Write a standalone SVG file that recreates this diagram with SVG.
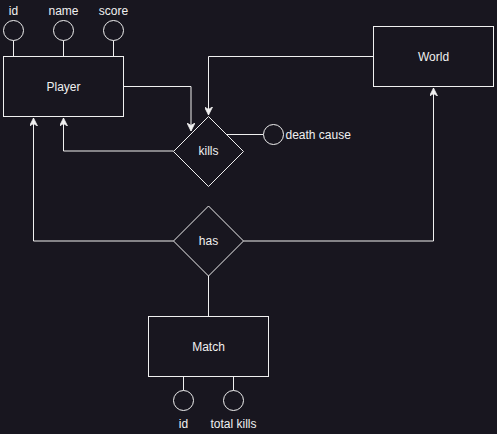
<svg xmlns="http://www.w3.org/2000/svg" width="497" height="434" viewBox="0 0 497 434">
<defs>
<style>
.s{fill:none;stroke:#f0f0f0;stroke-width:1}
.n{fill:#18161f;stroke:#f0f0f0;stroke-width:1}
.t{font-family:"Liberation Sans",Arial,sans-serif;font-size:12px;fill:#f0f0f0;text-anchor:middle}
</style>
<marker id="arr" viewBox="0 0 10 10" refX="10" refY="5" markerWidth="8" markerHeight="8" markerUnits="userSpaceOnUse" orient="auto">
<path d="M0,0 L10,5 L0,10 L3,5 Z" fill="#f0f0f0" stroke="#f0f0f0" stroke-width="1"/>
</marker>
</defs>
<rect width="497" height="434" fill="#18161f"/>
<g id="connectors">
<path class="s" d="M123.5,86.5 H191 V131" marker-end="url(#arr)"/>
<path class="s" d="M173.5,151 H63.5 V118" marker-end="url(#arr)"/>
<path class="s" d="M373.5,56.5 H208.5 V115" marker-end="url(#arr)"/>
<path class="s" d="M173.5,241 H33.5 V118" marker-end="url(#arr)"/>
<path class="s" d="M243.5,241 H433.5 V88" marker-end="url(#arr)"/>
<path class="s" d="M208.5,276 V316.5"/>
<path class="s" d="M226,134.5 H263.5"/>
<path class="s" d="M13.5,40.5 V56.5 M63.5,40.5 V56.5 M113.5,40.5 V56.5"/>
<path class="s" d="M183.5,376.5 V390.5 M233.5,376.5 V390.5"/>
</g>
<g id="player">
<rect class="n" x="3.5" y="56.5" width="120" height="60"/>
<text class="t" x="63.5" y="90.5">Player</text>
</g>
<g id="player-id">
<circle class="n" cx="13.5" cy="30.5" r="10"/>
<text class="t" x="13.5" y="15">id</text>
</g>
<g id="player-name">
<circle class="n" cx="63.5" cy="30.5" r="10"/>
<text class="t" x="63.5" y="15">name</text>
</g>
<g id="player-score">
<circle class="n" cx="113.5" cy="30.5" r="10"/>
<text class="t" x="113.5" y="15">score</text>
</g>
<g id="world">
<rect class="n" x="373.5" y="26.5" width="120" height="60"/>
<text class="t" x="433.5" y="60.5">World</text>
</g>
<g id="kills">
<path class="n" d="M208.5,116.5 L243.5,151.5 L208.5,186.5 L173.5,151.5 Z"/>
<text class="t" x="208.5" y="155">kills</text>
</g>
<g id="death-cause">
<circle class="n" cx="273.5" cy="134.5" r="10"/>
<text class="t" x="285.5" y="138.5" style="text-anchor:start">death cause</text>
</g>
<g id="has">
<path class="n" d="M208.5,206 L243.5,241 L208.5,276 L173.5,241 Z"/>
<text class="t" x="208.5" y="245">has</text>
</g>
<g id="match">
<rect class="n" x="148.5" y="316.5" width="120" height="60"/>
<text class="t" x="208.5" y="350.5">Match</text>
</g>
<g id="match-id">
<circle class="n" cx="183.5" cy="400.5" r="10"/>
<text class="t" x="183.5" y="428">id</text>
</g>
<g id="match-total-kills">
<circle class="n" cx="233.5" cy="400.5" r="10"/>
<text class="t" x="233.5" y="428">total kills</text>
</g>
</svg>
